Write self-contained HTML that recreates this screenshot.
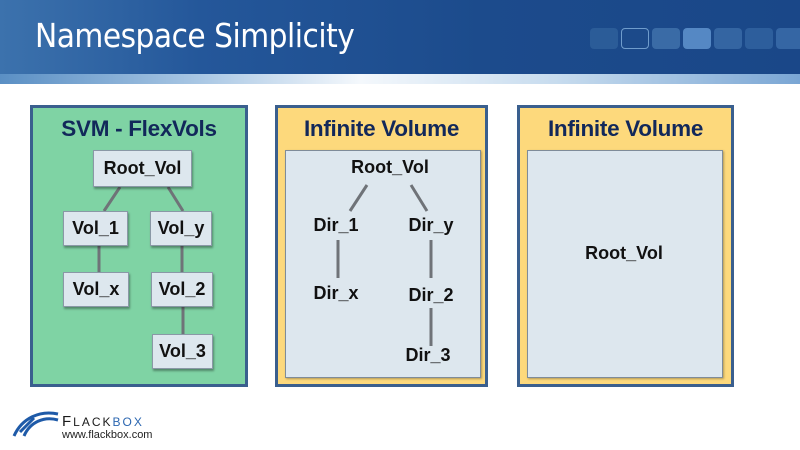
<!DOCTYPE html>
<html><head><meta charset="utf-8"><style>
*{margin:0;padding:0;box-sizing:border-box}
body{width:800px;height:450px;background:#fff;position:relative;overflow:hidden;font-family:"Liberation Sans",sans-serif}
.hdr{position:absolute;left:0;top:0;width:800px;height:80px;background:linear-gradient(90deg,#3c72ad 0%,#24579a 25%,#1c4b8c 60%,#1a4788 100%)}
.hdr2{position:absolute;left:0;top:74px;width:800px;height:10px;background:linear-gradient(90deg,#5a8fc4 0%,#a9c7e4 25%,#f4f8fc 45%,#c6dbee 70%,#7aa6d4 100%)}
.title{position:absolute;left:35px;top:16px;color:#fff;font-size:33px;letter-spacing:-0.5px;font-family:"DejaVu Sans Condensed","Liberation Sans",sans-serif}
.sq{position:absolute;top:28px;height:21px;width:28px;border-radius:4px;background:#2b5c98}
.panel{position:absolute;top:105px;height:282px;border:3px solid #3a5f8e}
.ptitle{position:absolute;left:0;right:0;top:8px;text-align:center;font-weight:bold;font-size:22.5px;color:#12285a;letter-spacing:-0.3px}
.inner{position:absolute;background:#dde7ee;border:1px solid #7f8c99;box-shadow:1px 1px 2px rgba(0,0,0,.3)}
.node{position:absolute;background:#dde7ee;border:1px solid #8a98a6;box-shadow:1px 2px 2px rgba(0,0,0,.35);font-weight:bold;font-size:18px;color:#111;text-align:center}
.lbl{position:absolute;font-weight:bold;font-size:18px;color:#111;transform:translateX(-50%)}
svg{position:absolute;left:0;top:0}
</style></head><body>
<div class="hdr"></div><div class="hdr2"></div>
<div class="title">Namespace Simplicity</div>
<div class="sq" style="left:590px"></div>
<div class="sq" style="left:621px;background:#1c4a8a;border:1px solid #6f9ccc"></div>
<div class="sq" style="left:652px;background:#3a6ba6"></div>
<div class="sq" style="left:683px;background:#5588c4"></div>
<div class="sq" style="left:714px;background:#3465a2"></div>
<div class="sq" style="left:745px;background:#2d5e9c"></div>
<div class="sq" style="left:776px;background:#3566a4"></div>

<div class="panel" style="left:30px;width:218px;background:#7fd3a4"><div class="ptitle">SVM - FlexVols</div></div>
<div class="panel" style="left:275px;width:213px;background:#fdd97c"><div class="ptitle">Infinite Volume</div></div>
<div class="panel" style="left:517px;width:217px;background:#fdd97c"><div class="ptitle">Infinite Volume</div></div>
<div class="inner" style="left:285px;top:150px;width:196px;height:228px"></div>
<div class="inner" style="left:527px;top:150px;width:196px;height:228px"></div>

<svg width="800" height="450">
<g stroke="#6f7378" stroke-width="3">
<line x1="120" y1="187" x2="104" y2="211"/><line x1="168" y1="187" x2="183" y2="211"/>
<line x1="99" y1="246" x2="99" y2="272"/><line x1="182" y1="246" x2="182" y2="272"/>
<line x1="183" y1="307" x2="183" y2="334"/>
<line x1="367" y1="185" x2="350" y2="211"/><line x1="411" y1="185" x2="427" y2="211"/>
<line x1="338" y1="240" x2="338" y2="278"/><line x1="431" y1="240" x2="431" y2="278"/>
<line x1="431" y1="308" x2="431" y2="346"/>
</g></svg>

<div class="node" style="left:93px;top:150px;width:99px;height:37px;line-height:35px">Root_Vol</div>
<div class="node" style="left:63px;top:211px;width:65px;height:35px;line-height:33px">Vol_1</div>
<div class="node" style="left:150px;top:211px;width:62px;height:35px;line-height:33px">Vol_y</div>
<div class="node" style="left:63px;top:272px;width:66px;height:35px;line-height:33px">Vol_x</div>
<div class="node" style="left:151px;top:272px;width:62px;height:35px;line-height:33px">Vol_2</div>
<div class="node" style="left:152px;top:334px;width:61px;height:35px;line-height:33px">Vol_3</div>

<div class="lbl" style="left:390px;top:157px">Root_Vol</div>
<div class="lbl" style="left:336px;top:215px">Dir_1</div>
<div class="lbl" style="left:431px;top:215px">Dir_y</div>
<div class="lbl" style="left:336px;top:283px">Dir_x</div>
<div class="lbl" style="left:431px;top:285px">Dir_2</div>
<div class="lbl" style="left:428px;top:345px">Dir_3</div>
<div class="lbl" style="left:624px;top:243px">Root_Vol</div>

<svg width="800" height="450"><g fill="none" stroke="#1e5aa8" stroke-width="3"><path d="M14 436 C22 418 40 410 58 414"/><path d="M24 436 C30 422 44 416 58 420"/><line x1="20" y1="432" x2="34" y2="418"/></g></svg>
<div style="position:absolute;left:62px;top:413px;font-size:15px;letter-spacing:2px;color:#1a1a1a">F<span style="font-size:12px">LACK</span><span style="color:#2b66b0;font-size:12px">BOX</span></div>
<div style="position:absolute;left:62px;top:429px;font-size:11px;color:#222">www.flackbox.com</div>
</body></html>
